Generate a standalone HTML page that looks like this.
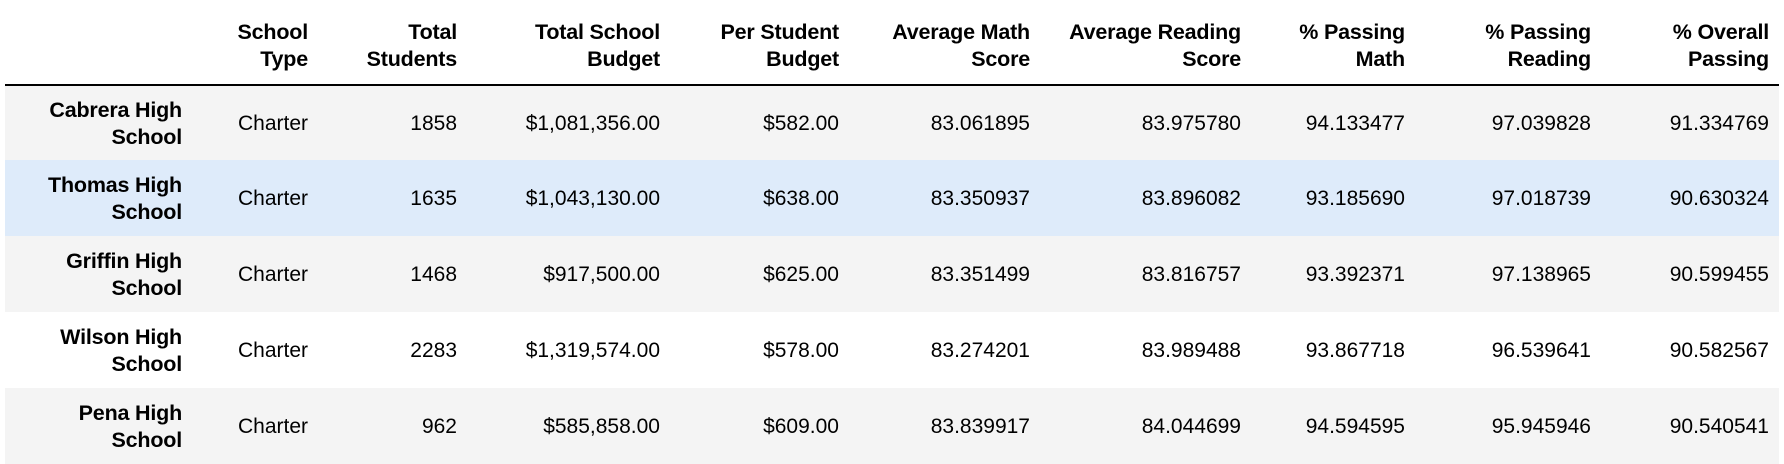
<!DOCTYPE html>
<html><head><meta charset="utf-8"><style>
html,body{margin:0;padding:0;background:#fff;width:1784px;height:458px;overflow:hidden;font-family:"Liberation Sans",Arial,sans-serif;color:#000}
.c{position:absolute;text-align:right;font-size:21px;line-height:27px;white-space:nowrap}
.h{font-weight:bold;font-size:21.5px;letter-spacing:-0.2px}
.row{position:absolute;left:5px;width:1774px;height:76px}
</style></head><body>
<div id="t" style="position:absolute;left:0;top:0;width:1784px;height:458px"></div>
<script>
const headers=[["School","Type"],["Total","Students"],["Total School","Budget"],["Per Student","Budget"],["Average Math","Score"],["Average Reading","Score"],["% Passing","Math"],["% Passing","Reading"],["% Overall","Passing"]];
const schools=[["Cabrera High","School"],["Thomas High","School"],["Griffin High","School"],["Wilson High","School"],["Pena High","School"]];
const schoolType=["Charter","Charter","Charter","Charter","Charter"];
const totalStudents=["1858","1635","1468","2283","962"];
const totalBudget=["$1,081,356.00","$1,043,130.00","$917,500.00","$1,319,574.00","$585,858.00"];
const perStudent=["$582.00","$638.00","$625.00","$578.00","$609.00"];
const avgMath=["83.061895","83.350937","83.351499","83.274201","83.839917"];
const avgReading=["83.975780","83.896082","83.816757","83.989488","84.044699"];
const passMath=["94.133477","93.185690","93.392371","93.867718","94.594595"];
const passReading=["97.039828","97.018739","97.138965","96.539641","95.945946"];
const overall=["91.334769","90.630324","90.599455","90.582567","90.540541"];
const cols=[schoolType,totalStudents,totalBudget,perStudent,avgMath,avgReading,passMath,passReading,overall];
const rights=[308,457,660,839,1030,1241,1405,1591,1769];
const colNames=["school-type","total-students","total-budget","per-student-budget","avg-math","avg-reading","pct-math","pct-reading","pct-overall"];
const t=document.getElementById('t');
function cell(txt,right,top,bold,name){
  const d=document.createElement('div');
  d.className='c'+(bold?' h':'');
  d.style.right=(1784-right)+'px';d.style.top=top+'px';
  d.innerHTML=txt;
  
  
  t.appendChild(d);
}
headers.forEach((h,i)=>cell(h[0]+'<br>'+h[1],rights[i],19,true,'header-'+colNames[i]));
const line=document.createElement('div');
line.style.cssText='position:absolute;left:5px;top:84px;width:1774px;height:2px;background:#000';


t.appendChild(line);
const tops=[86,160,236,312,388];
schools.forEach((s,r)=>{
  const row=document.createElement('div');
  row.className='row';
  row.style.top=tops[r]+'px';
  const bottom=r<4?tops[r+1]:464;
  row.style.height=(bottom-tops[r])+'px';
  row.style.background=r==1?'#deebfa':(r%2==0?'#f4f4f4':'#fff');
  
  
  t.appendChild(row);
  const mid=tops[r]+(bottom-tops[r])/2;
  cell(s[0]+'<br>'+s[1],182,mid-26,true,'school-name');
  cols.forEach((c,i)=>cell(c[r],rights[i],mid-13,false,colNames[i]+'-cell'));
});
</script>
</body></html>
